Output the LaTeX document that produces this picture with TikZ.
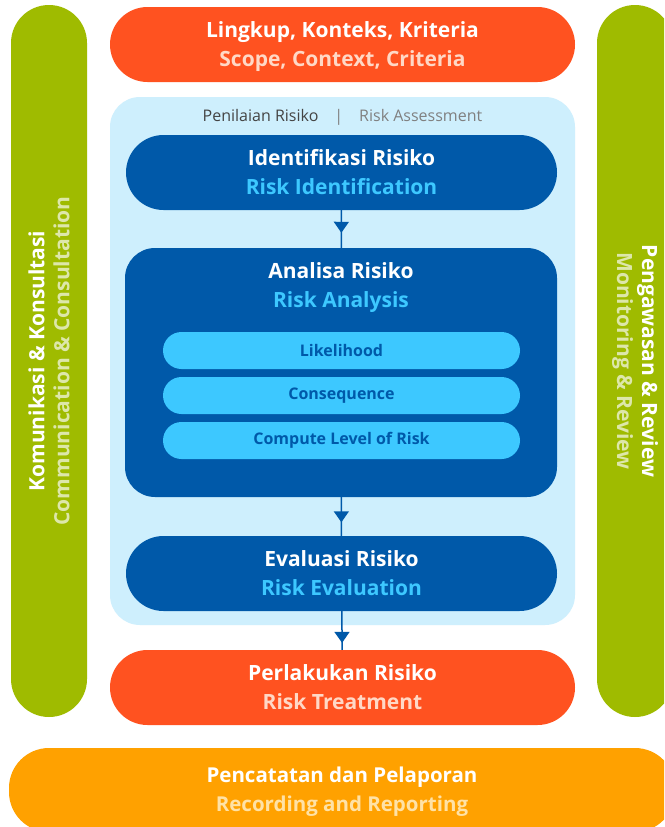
\documentclass[tikz,border=0pt]{standalone}
\usepackage{fontspec}
\setmainfont{Open Sans}
\usetikzlibrary{arrows.meta,decorations.markings}

\definecolor{riskred}{HTML}{FF5220}
\definecolor{riskredtxt}{HTML}{FFD8C6}
\definecolor{riskgreen}{HTML}{9FBB00}
\definecolor{riskgreentxt}{HTML}{DDE7AA}
\definecolor{riskamber}{HTML}{FFA100}
\definecolor{riskambertxt}{HTML}{FFE2A6}
\definecolor{riskpale}{HTML}{CEEFFD}
\definecolor{risknavy}{HTML}{0059A9}
\definecolor{risksky}{HTML}{3DC8FF}
\definecolor{riskgray}{HTML}{444444}

\tikzset{
  pill/.style={rounded corners=#1, inner sep=0pt, align=center, text=white,
    font=\bfseries\fontsize{21}{29}\selectfont},
  subpill/.style={pill=18.5pt, fill=risksky, text=risknavy,
    minimum width=357pt, minimum height=37pt, font=\bfseries\fontsize{16}{18}\selectfont},
  flow/.style={draw=risknavy, line width=1.5pt, postaction={decorate},
    decoration={markings, mark=at position #1 with {\arrow{Triangle[width=15pt,length=11pt]}}}}
}

\begin{document}
\begin{tikzpicture}[x=1pt,y=-1pt]
  \clip (0,0) rectangle (664,827);
  \fill[white] (0,0) rectangle (664,827);

  \node[pill=38pt, fill=riskgreen, minimum width=76pt, minimum height=712pt] (komunikasi) at (49,361) {};
  \node[rotate=90, align=center, text=white, font=\bfseries\fontsize{21}{25}\selectfont] at (komunikasi)
    {Komunikasi \& Konsultasi\\\textcolor{riskgreentxt}{Communication \& Consultation}};
  \node[pill=38pt, fill=riskgreen, minimum width=76pt, minimum height=712pt] (pengawasan) at (635,361) {};
  \node[rotate=-90, align=center, text=white, font=\bfseries\fontsize{21}{25}\selectfont] at (pengawasan)
    {Pengawasan \& Review\\\textcolor{riskgreentxt}{Monitoring \& Review}};
  \node[pill=40pt, fill=riskamber, minimum width=666pt, minimum height=84pt] (pencatatan) at (342,790) {};
  \node[align=center, text=white, font=\bfseries\fontsize{20.5}{29}\selectfont] at (342,792)
    {Pencatatan dan Pelaporan\\\textcolor{riskambertxt}{Recording and Reporting}};

  \node[pill=37.5pt, fill=riskred, minimum width=465pt, minimum height=75pt] (lingkup) at (342.5,44.5) {};
  \node[align=center, text=white, font=\bfseries\fontsize{21}{29}\selectfont] at (342.5,46.5)
    {Lingkup, Konteks, Kriteria\\\textcolor{riskredtxt}{Scope, Context, Criteria}};

  \node[pill=30pt, fill=riskpale, minimum width=465pt, minimum height=528pt] (penilaian) at (342.5,361) {};
  \node[font=\fontsize{16}{18}\selectfont, text=riskgray] (penilaianlabel) at (342.5,117)
    {Penilaian Risiko\quad\textcolor{gray}{|\quad Risk Assessment}};

  \node[pill=37.5pt, fill=risknavy, minimum width=431pt, minimum height=75pt] (identifikasi) at (341.5,172.5)
    {Identifikasi Risiko\\\textcolor{risksky}{Risk Identification}};
  \node[pill=30pt, fill=risknavy, minimum width=432pt, minimum height=249pt] (analisa) at (341,372.5) {};
  \node[align=center, text=white, font=\bfseries\fontsize{21}{29}\selectfont] (analisalabel) at (341,288)
    {Analisa Risiko\\\textcolor{risksky}{Risk Analysis}};
  \node[subpill] (likelihood) at (341.5,350.5) {Likelihood};
  \node[subpill] (consequence) at (341.5,395.5) {Consequence};
  \node[subpill] (levelrisk) at (341.5,440.5) {Compute Level of Risk};
  \node[pill=37.5pt, fill=risknavy, minimum width=431pt, minimum height=75pt] (evaluasi) at (341.5,573.5)
    {Evaluasi Risiko\\\textcolor{risksky}{Risk Evaluation}};

  \node[pill=37.5pt, fill=riskred, minimum width=465pt, minimum height=75pt] (perlakukan) at (342.5,687.5)
    {Perlakukan Risiko\\\textcolor{riskredtxt}{Risk Treatment}};

  \draw[flow=0.6] (identifikasi) -- (analisa);
  \draw[flow=0.65] (analisa) -- (evaluasi);
  \draw[flow=0.82] (evaluasi) -- (perlakukan);
\end{tikzpicture}
\end{document}
